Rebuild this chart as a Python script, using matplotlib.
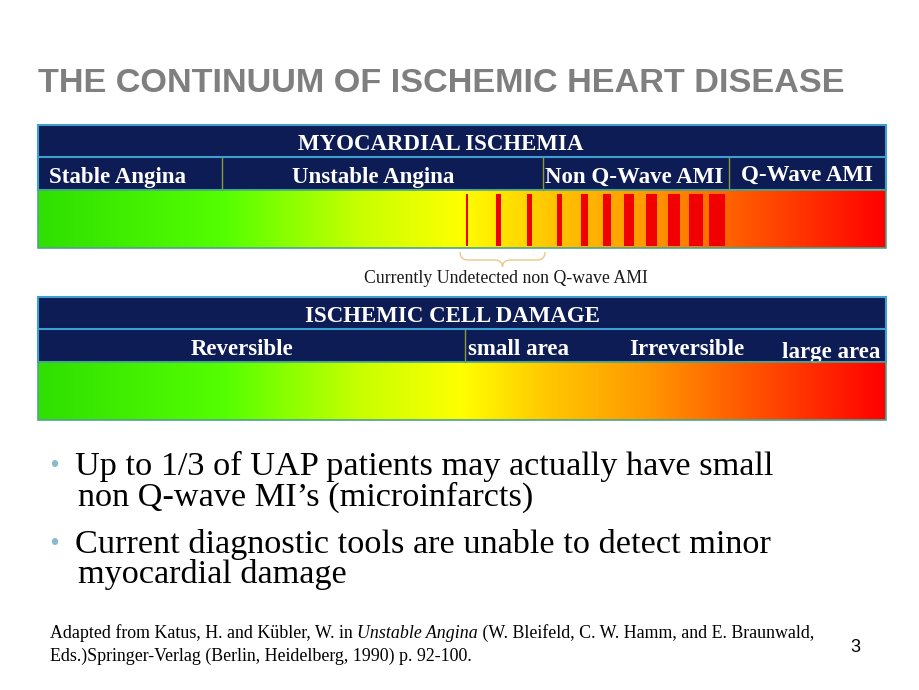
import numpy as np
import matplotlib
matplotlib.use("Agg")
import matplotlib.pyplot as plt
from matplotlib.colors import LinearSegmentedColormap
from matplotlib.patches import Rectangle, PathPatch
from matplotlib.path import Path

# ---- content ----
title = "THE CONTINUUM OF ISCHEMIC HEART DISEASE"

top_header = "MYOCARDIAL ISCHEMIA"
top_header_x = 441
top_stages = ["Stable Angina", "Unstable Angina", "Non Q-Wave AMI", "Q-Wave AMI"]
top_stage_x = [118, 373, 634, 807]
top_stage_dy = [0, 0, 0, -2]
top_dividers = [222, 543, 729]

bottom_header = "ISCHEMIC CELL DAMAGE"
bottom_header_x = 453
bottom_stages = ["Reversible", "small area", "Irreversible", "large area"]
bottom_stage_x = [242, 519, 687, 831]
bottom_stage_dy = [0, 0, 0, 3]
bottom_dividers = [465]

# red stripes (left edge, width) in the top bar
stripe_left = [466, 496, 527, 557, 581, 603, 624, 646, 668, 689, 709]
stripe_width = [2, 5, 5, 5, 7, 8, 10, 11, 12, 14, 16]

brace_label = "Currently Undetected non Q-wave AMI"

bullets = [
    ("Up to 1/3 of UAP patients may actually have small", "non Q-wave MI\u2019s (microinfarcts)"),
    ("Current diagnostic tools are unable to detect minor", "myocardial damage"),
]

note_line1 = ["Adapted from Katus, H. and K\u00fcbler, W. in ", "Unstable Angina",
              " (W. Bleifeld, C. W. Hamm, and E. Braunwald,"]
note_line2 = "Eds.)Springer-Verlag (Berlin, Heidelberg, 1990) p. 92-100."
page_no = "3"

# ---- style ----
navy = "#0d1c55"
edge_blue = "#3fa0d0"
div_col = "#8a9a3a"
grad = LinearSegmentedColormap.from_list(
    "isch",
    [(0.0, "#2fe000"), (0.22, "#55ff00"), (0.38, "#c8ff00"), (0.50, "#ffff00"),
     (0.60, "#ffc800"), (0.72, "#ff9800"), (0.86, "#ff4a00"), (1.0, "#ff0000")])

fig = plt.figure(figsize=(9.2, 6.9), dpi=100)
ax = fig.add_axes([0, 0, 1, 1])
ax.set_xlim(0, 920)
ax.set_ylim(690, 0)
ax.axis("off")

serif = "Liberation Serif"
sans = "Liberation Sans"

ax.text(38, 92, title, fontsize=24.7, fontweight="bold", family=sans,
        color="#7f7f7f", va="baseline", ha="left")

x0, x1 = 38, 886
ramp = np.linspace(0, 1, 512).reshape(1, -1)


def block(y_top, header, header_x, stages, stage_x, stage_dy, dividers):
    h_mid = y_top + 32
    h_bot = y_top + 65
    g_bot = h_bot + 58
    ax.add_patch(Rectangle((x0, y_top), x1 - x0, h_bot - y_top, facecolor=navy,
                           edgecolor=edge_blue, lw=1.5))
    ax.plot([x0, x1], [h_mid, h_mid], color=edge_blue, lw=1.5)
    for d in dividers:
        ax.plot([d, d], [h_mid + 1, h_bot], color=div_col, lw=1)
    ax.text(header_x, y_top + 25, header, fontsize=16.5,
            fontweight="bold", family=serif, color="white", ha="center", va="baseline")
    for s, sx, dy in zip(stages, stage_x, stage_dy):
        ax.text(sx, y_top + 58 + dy, s, fontsize=16.5, fontweight="bold",
                family=serif, color="white", ha="center", va="baseline")
    ax.imshow(ramp, cmap=grad, aspect="auto", extent=(x0, x1, g_bot, h_bot),
              zorder=1)
    ax.add_patch(Rectangle((x0, h_bot), x1 - x0, g_bot - h_bot, facecolor="none",
                           edgecolor="#4aa58a", lw=1.2, zorder=3))
    return h_bot, g_bot


g_top, g_bottom = block(125, top_header, top_header_x, top_stages, top_stage_x,
                        top_stage_dy, top_dividers)
for l, w in zip(stripe_left, stripe_width):
    ax.add_patch(Rectangle((l, g_top + 4), w, g_bottom - g_top - 6,
                           facecolor="#f00000", edgecolor="none", zorder=2))

# curly brace under the undetected stripes
bl, br, by = 460, 545, 252
bm = (bl + br) / 2
verts = [(bl, by), (bl, by + 8), (bl + 8, by + 8), (bm - 8, by + 8),
         (bm, by + 8), (bm, by + 15), (bm, by + 15),
         (bm, by + 15), (bm, by + 8), (bm + 8, by + 8),
         (br - 8, by + 8), (br, by + 8), (br, by)]
codes = [Path.MOVETO, Path.CURVE3, Path.CURVE3, Path.LINETO,
         Path.CURVE3, Path.CURVE3, Path.LINETO,
         Path.MOVETO, Path.CURVE3, Path.CURVE3,
         Path.LINETO, Path.CURVE3, Path.CURVE3]
ax.add_patch(PathPatch(Path(verts, codes), facecolor="none", edgecolor="#e8c98a", lw=1))
ax.text(506, 283, brace_label, fontsize=12.8, family=serif, color="#1a1a1a",
        ha="center", va="baseline")

block(297, bottom_header, bottom_header_x, bottom_stages, bottom_stage_x,
      bottom_stage_dy, bottom_dividers)

# bullets
line_y = [(475, 506), (553, 583)]
for (a, b), (ya, yb) in zip(bullets, line_y):
    ax.text(50, ya - 3, "\u2022", fontsize=17, color="#8db9cc", va="baseline", family=sans)
    ax.text(75, ya, a, fontsize=24.7, family=serif, color="black", va="baseline")
    ax.text(78, yb, b, fontsize=24.7, family=serif, color="black", va="baseline")

# footnote
fig.canvas.draw()
r = fig.canvas.get_renderer()
xpos = 50
for i, part in enumerate(note_line1):
    tt = ax.text(xpos, 638, part, fontsize=12.9, family=serif,
                 style="italic" if i == 1 else "normal", va="baseline")
    xpos += tt.get_window_extent(r).width
ax.text(50, 661, note_line2, fontsize=12.9, family=serif, va="baseline")
ax.text(855, 652, page_no, fontsize=13, family=sans, va="baseline", ha="center")

fig.savefig("out.png", dpi=100)
